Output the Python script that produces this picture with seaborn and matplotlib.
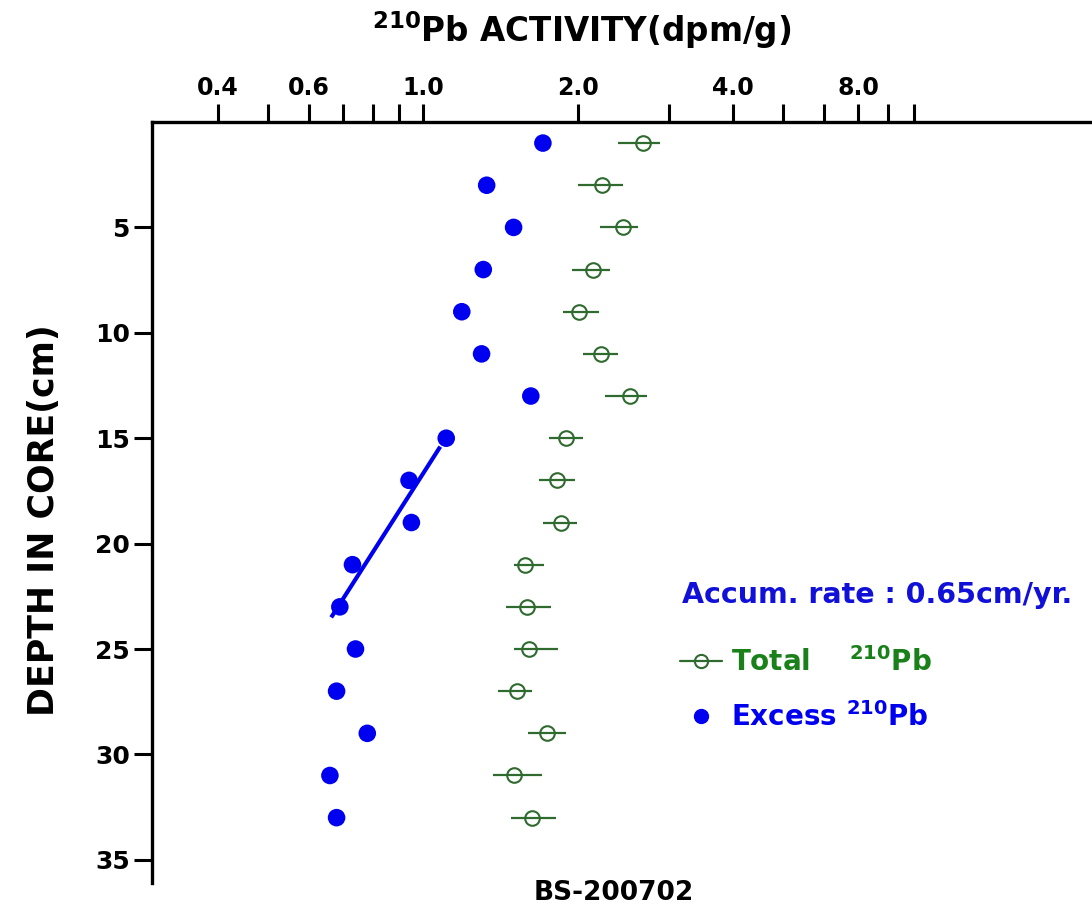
import numpy as np
import pandas as pd
import matplotlib
matplotlib.use("Agg")
import matplotlib.pyplot as plt
from matplotlib.lines import Line2D
from matplotlib.ticker import FixedLocator, FixedFormatter, NullLocator
import seaborn as sns

# Core BS-200702: 210Pb activity (dpm/g) against depth (cm)
depth = [1, 3, 5, 7, 9, 11, 13, 15, 17, 19, 21, 23, 25, 27, 29, 31, 33]
total_pb = [2.67, 2.23, 2.45, 2.14, 2.01, 2.22, 2.52, 1.90, 1.82, 1.85,
            1.58, 1.59, 1.61, 1.52, 1.74, 1.50, 1.63]
total_low = [2.39, 2.00, 2.21, 1.95, 1.87, 2.05, 2.26, 1.76, 1.68, 1.71,
             1.50, 1.45, 1.50, 1.40, 1.60, 1.37, 1.48]
total_high = [2.89, 2.45, 2.62, 2.31, 2.20, 2.39, 2.72, 2.05, 1.97, 1.99,
              1.72, 1.77, 1.83, 1.63, 1.90, 1.70, 1.81]
excess_pb = [1.71, 1.33, 1.50, 1.31, 1.19, 1.30, 1.62, 1.11, 0.94, 0.95,
             0.73, 0.69, 0.74, 0.68, 0.78, 0.66, 0.68]

# depth interval used for the accumulation-rate fit
fit_depths = [15, 17, 19, 21, 23]
fit_span = [15.4, 23.5]

x_ticks = [0.4, 0.5, 0.6, 0.7, 0.8, 0.9, 1, 2, 3, 4, 5, 6, 7, 8, 9]
x_tick_labels = ["0.4", "", "0.6", "", "", "", "1.0", "2.0", "", "4.0",
                 "", "", "8.0", "", ""]
y_ticks = [5, 10, 15, 20, 25, 30, 35]

BLUE = "#0000f0"
GREEN_MARK = "#2f6a2f"
GREEN_TEXT = "#1a801a"

sns.set_style("ticks")
plt.rcParams["font.family"] = ["DejaVu Sans"]
plt.rcParams["font.weight"] = "bold"
plt.rcParams["mathtext.fontset"] = "dejavusans"
for key in ("text.color", "axes.labelcolor", "xtick.color", "ytick.color",
            "axes.edgecolor"):
    plt.rcParams[key] = "black"

fig = plt.figure(figsize=(10.92, 9.18), dpi=100)
ax = fig.add_axes([152 / 1092, 1 - 883 / 918, 1 - 152 / 1092, (883 - 122) / 918])

df = pd.DataFrame({"depth": depth, "total": total_pb, "low": total_low,
                   "high": total_high, "excess": excess_pb})

# total 210Pb with horizontal error bars
ax.errorbar(df["total"], df["depth"],
            xerr=[df["total"] - df["low"], df["high"] - df["total"]],
            fmt="o", mfc="none", mec=GREEN_MARK, mew=1.5, ms=10.5,
            ecolor=GREEN_MARK, elinewidth=1.6, capsize=0, zorder=3)

# excess 210Pb
sns.scatterplot(data=df, x="excess", y="depth", ax=ax, color=BLUE,
                s=160, edgecolor="none", zorder=4, legend=False)

# log-linear fit of excess activity in the decay zone
sub = df[df["depth"].isin(fit_depths)]
slope, intercept = np.polyfit(sub["depth"], np.log10(sub["excess"]), 1)
zz = np.array(fit_span)
ax.plot(10 ** (intercept + slope * zz), zz, color=BLUE, lw=3.0, zorder=4,
        solid_capstyle="butt")

ax.set_xscale("log")
ax.set_xlim(0.298, 19.9)
ax.set_ylim(36.1, 0)
ax.xaxis.tick_top()
ax.xaxis.set_major_locator(FixedLocator(x_ticks))
ax.xaxis.set_major_formatter(FixedFormatter(x_tick_labels))
ax.xaxis.set_minor_locator(NullLocator())
ax.set_yticks(y_ticks)
ax.set_yticklabels([str(v) for v in y_ticks])
ax.tick_params(axis="both", direction="out", length=13, width=2.2,
               labelsize=17, color="black", labelcolor="black", pad=3)
ax.tick_params(axis="y", labelsize=18)
for lab in ax.get_xticklabels() + ax.get_yticklabels():
    lab.set_fontweight("bold")

for side in ("right", "bottom"):
    ax.spines[side].set_visible(False)
for side in ("left", "top"):
    ax.spines[side].set_linewidth(2.4)
    ax.spines[side].set_color("black")

ax.set_xlabel("")
ax.set_ylabel("DEPTH IN CORE(cm)", fontsize=25, fontweight="bold")
ax.yaxis.set_label_coords((61 - 152) / 940, (883 - 520) / 761)

fig.text(582 / 1092, 1 - 30 / 918, r"$^{\mathbf{210}}$Pb ACTIVITY(dpm/g)",
         ha="center", va="center", fontsize=23.5, fontweight="bold")
fig.text(614 / 1092, 1 - 893 / 918, "BS-200702", ha="center", va="center",
         fontsize=19, fontweight="bold")
fig.text(682 / 1092, 1 - 595 / 918, "Accum. rate : 0.65cm/yr.", ha="left",
         va="center", fontsize=20.5, fontweight="bold", color="#1010d8")

handles = [
    Line2D([], [], color=GREEN_MARK, marker="o", mfc="none", mec=GREEN_MARK,
           mew=1.5, ms=9.5, lw=1.6),
    Line2D([], [], color=BLUE, marker="o", ls="none", ms=10),
]
labels = ["Total    $^{\\mathbf{210}}$Pb", "Excess $^{\\mathbf{210}}$Pb"]
leg = ax.legend(handles, labels, loc="upper left",
                bbox_to_anchor=(666 / 1092, 1 - 633 / 918),
                bbox_transform=fig.transFigure, frameon=False,
                prop={"size": 20, "weight": "bold"}, handlelength=1.5,
                handletextpad=0.35, labelspacing=0.9, borderpad=0)
for txt, col in zip(leg.get_texts(), [GREEN_TEXT, BLUE]):
    txt.set_color(col)

fig.savefig("out.png", dpi=100)
